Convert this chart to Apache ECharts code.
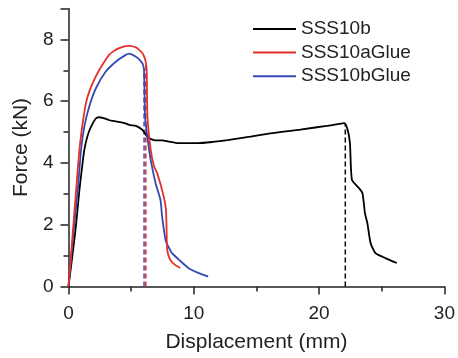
<!DOCTYPE html>
<html>
<head>
<meta charset="utf-8">
<script src="https://cdn.jsdelivr.net/npm/echarts@6/dist/echarts.min.js"></script>
<style>
html,body{margin:0;padding:0;background:#fff;}
#c{width:458px;height:358px;}
</style>
</head>
<body>
<div id="c"></div>
<script>
var seriesNames = ['SSS10b', 'SSS10aGlue', 'SSS10bGlue'];
var xTicks = [0, 10, 20, 30];
var yTicks = [0, 2, 4, 6, 8];

var blackX = [0, 0.25, 0.53, 0.7, 0.87, 1.05, 1.26, 1.5, 1.79, 2.18, 2.44, 2.8, 3.22, 3.54, 4.54, 4.85, 5.38, 5.9, 6.29, 6.82, 7.5, 8.0, 8.78, 10.35, 11.5, 12.7, 14.5, 16.1, 18.5, 20.6, 21.5, 22.01, 22.28, 22.46, 22.62, 23.19, 23.46, 23.66, 23.85, 24.11, 24.5, 25.29, 26.2];
var blackY = [0, 0.8, 1.73, 2.4, 3.12, 3.75, 4.42, 4.85, 5.17, 5.44, 5.48, 5.45, 5.39, 5.36, 5.28, 5.23, 5.2, 5.07, 4.85, 4.74, 4.73, 4.69, 4.64, 4.64, 4.68, 4.74, 4.85, 4.96, 5.08, 5.2, 5.26, 5.29, 5.07, 4.64, 3.45, 3.18, 3.02, 2.37, 2.05, 1.4, 1.08, 0.92, 0.76];

var redX = [0, 0.2, 0.4, 0.61, 0.87, 1.13, 1.39, 1.65, 1.92, 2.44, 2.9, 3.22, 3.6, 4.0, 4.54, 4.9, 5.38, 5.64, 5.9, 6.08, 6.16, 6.24, 6.3, 6.56, 6.82, 7.08, 7.6, 7.78, 7.86, 7.94, 8.13, 8.5, 8.92];
var redY = [0, 1.0, 2.05, 3.12, 4.42, 5.28, 5.93, 6.3, 6.58, 7.0, 7.3, 7.49, 7.62, 7.71, 7.78, 7.79, 7.74, 7.66, 7.55, 7.4, 7.27, 7.0, 5.5, 4.42, 3.9, 3.67, 2.91, 2.48, 1.29, 1.05, 0.86, 0.7, 0.6];

var blueX = [0, 0.2, 0.45, 0.74, 1.0, 1.26, 1.65, 2.18, 2.96, 3.75, 4.54, 4.85, 5.38, 5.64, 5.9, 6.03, 6.11, 6.29, 6.56, 6.95, 7.34, 7.47, 7.74, 7.86, 8.26, 8.78, 9.57, 10.3, 11.14];
var blueY = [0, 0.9, 1.95, 3.12, 4.42, 5.17, 5.82, 6.41, 6.95, 7.27, 7.49, 7.54, 7.44, 7.35, 7.22, 7.0, 5.5, 4.85, 4.1, 3.34, 2.8, 2.26, 1.51, 1.38, 1.08, 0.88, 0.6, 0.45, 0.32];

var dropBlackX = [22.09, 22.09];
var dropBlackY = [0, 5.28];
var dropRedX = [6.17, 6.17];
var dropRedY = [0, 7.25];
var dropBlueX = [6.03, 6.03];
var dropBlueY = [0, 7.05];

function pairs(xs, ys) { return xs.map(function (x, i) { return [x, ys[i]]; }); }

var FONT = 'Liberation Sans, Arial, sans-serif';
var colors = ['#000000', '#e3302a', '#3549b3'];

var chart = echarts.init(document.getElementById('c'), null, {renderer: 'canvas'});

function mainLine(name, data, color) {
  return {name: name, type: 'line', data: data, symbol: 'none', smooth: 0.2,
    lineStyle: {color: color, width: 1.8}, itemStyle: {color: color}, z: 3, animation: false};
}
function dropLine(data, color) {
  return {type: 'line', data: data, symbol: 'none',
    lineStyle: {color: color, width: 1.5, type: [5, 3]}, z: 2, animation: false, silent: true};
}

chart.setOption({
  animation: false,
  backgroundColor: '#fff',
  grid: {left: 68.5, right: 9, top: 8.5, bottom: 71.5, containLabel: false},
  legend: {
    data: seriesNames,
    orient: 'vertical',
    left: 253, top: 17.5, padding: 0,
    icon: 'rect', itemWidth: 43, itemHeight: 2, itemGap: 0.6,
    textStyle: {fontFamily: FONT, fontSize: 19, color: '#222', lineHeight: 23}
  },
  xAxis: {
    type: 'value', min: xTicks[0], max: xTicks[xTicks.length - 1], interval: 10,
    name: 'Displacement (mm)', nameLocation: 'middle', nameGap: 45,
    nameTextStyle: {fontFamily: FONT, fontSize: 21, color: '#222'},
    axisLine: {show: true, onZero: false, lineStyle: {color: '#222', width: 1.5}},
    axisTick: {show: true, inside: false, length: 8, lineStyle: {color: '#222', width: 1.5}},
    minorTick: {show: true, splitNumber: 2, length: 5, lineStyle: {color: '#222', width: 1.5}},
    splitLine: {show: false}, minorSplitLine: {show: false},
    axisLabel: {fontFamily: FONT, fontSize: 19, color: '#222', margin: 18}
  },
  yAxis: {
    type: 'value', min: yTicks[0], max: 9, interval: 2,
    name: 'Force (kN)', nameLocation: 'middle', nameGap: 37, nameRotate: 90,
    nameTextStyle: {fontFamily: FONT, fontSize: 21, color: '#222'},
    axisLine: {show: true, onZero: false, lineStyle: {color: '#222', width: 1.5}},
    axisTick: {show: true, inside: false, length: 8, lineStyle: {color: '#222', width: 1.5}},
    minorTick: {show: true, splitNumber: 2, length: 5, lineStyle: {color: '#222', width: 1.5}},
    splitLine: {show: false}, minorSplitLine: {show: false},
    axisLabel: {fontFamily: FONT, fontSize: 19, color: '#222', margin: 15, showMaxLabel: false,
      formatter: function (v) { return yTicks.indexOf(v) >= 0 ? String(v) : ''; }}
  },
  series: [
    dropLine(pairs(dropBlackX, dropBlackY), '#000000'),
    dropLine(pairs(dropBlueX, dropBlueY), colors[2]),
    dropLine(pairs(dropRedX, dropRedY), colors[1]),
    mainLine(seriesNames[0], pairs(blackX, blackY), colors[0]),
    mainLine(seriesNames[2], pairs(blueX, blueY), colors[2]),
    mainLine(seriesNames[1], pairs(redX, redY), colors[1])
  ]
});
</script>
</body>
</html>
